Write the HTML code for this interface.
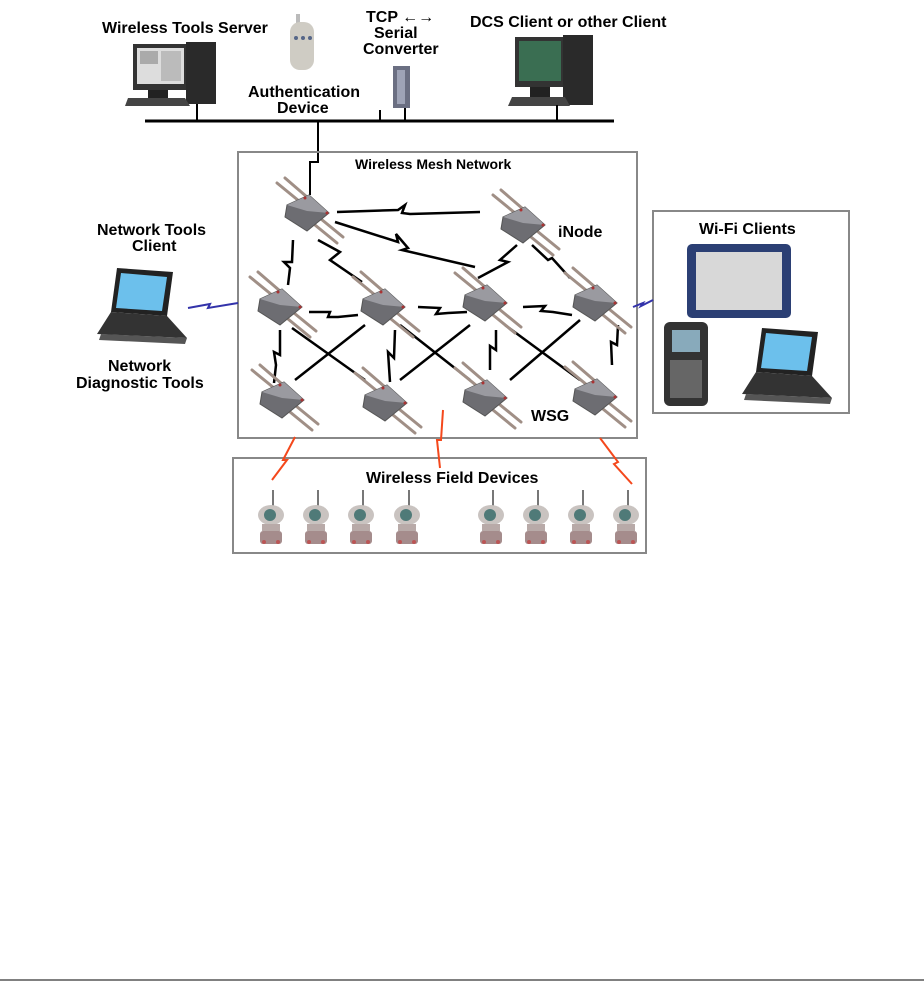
<!DOCTYPE html>
<html><head><meta charset="utf-8"><style>
body{margin:0;background:#fff;}
svg{display:block;}
text{font-family:"Liberation Sans",Arial,sans-serif;font-weight:bold;font-size:16px;fill:#000;}
</style></head><body>
<svg width="924" height="996" viewBox="0 0 924 996" xmlns="http://www.w3.org/2000/svg">
<defs>
<g id="node">
 <g stroke="#a08f86" stroke-width="3" stroke-linecap="round">
  <line x1="-30" y1="-30" x2="-8" y2="-12"/><line x1="-22" y1="-35" x2="0" y2="-16"/>
  <line x1="8" y1="12" x2="30" y2="30"/><line x1="14" y1="6" x2="36" y2="24"/>
 </g>
 <polygon points="-20,-8 2,-18 22,0 0,18 -22,4" fill="#6d6d72" stroke="#555" stroke-width="1"/>
 <polygon points="-20,-8 2,-18 22,0 0,-2" fill="#9a9aa0"/>
 <circle cx="-2" cy="-15" r="1.5" fill="#a33"/><circle cx="20" cy="0" r="1.5" fill="#a33"/>
</g>
<g id="fd">
 <line x1="0" y1="-22" x2="0" y2="-6" stroke="#777" stroke-width="2"/>
 <ellipse cx="-2" cy="3" rx="13" ry="10" fill="#c9c3c0"/>
 <circle cx="-3" cy="3" r="6" fill="#4f7a78"/>
 <rect x="-11" y="12" width="18" height="7" fill="#b8aaa8"/>
 <rect x="-13" y="19" width="22" height="13" rx="3" fill="#a58c8c"/>
 <circle cx="-9" cy="30" r="2" fill="#b55"/><circle cx="5" cy="30" r="2" fill="#b55"/>
</g>
<g id="laptop">
 <polygon points="20,0 76,4 70,48 14,44" fill="#222"/>
 <polygon points="24,5 70,9 65,43 19,40" fill="#6cc0ec"/>
 <polygon points="14,44 70,48 90,70 0,66" fill="#333"/>
 <polygon points="4,66 90,70 88,76 2,72" fill="#555"/>
</g>
</defs>

<text x="102" y="33">Wireless Tools Server</text>
<text x="470" y="27">DCS Client or other Client</text>
<text x="366" y="22">TCP ←→</text>
<text x="374" y="38">Serial</text>
<text x="363" y="54">Converter</text>
<text x="248" y="97">Authentication</text>
<text x="277" y="113">Device</text>

<rect x="133" y="44" width="55" height="46" fill="#333"/>
<rect x="137" y="48" width="47" height="36" fill="#ddd"/>
<rect x="140" y="51" width="18" height="13" fill="#aaa"/><rect x="161" y="51" width="20" height="30" fill="#bbb"/>
<rect x="148" y="90" width="20" height="10" fill="#222"/>
<rect x="186" y="42" width="30" height="62" fill="#2a2a2a"/>
<polygon points="128,98 185,98 190,106 125,106" fill="#444"/>
<rect x="296" y="14" width="4" height="10" fill="#bbb"/>
<rect x="290" y="22" width="24" height="48" rx="10" fill="#cfccc4"/>
<circle cx="296" cy="38" r="2" fill="#568"/><circle cx="303" cy="38" r="2" fill="#568"/><circle cx="310" cy="38" r="2" fill="#568"/>
<rect x="393" y="66" width="17" height="42" fill="#6b6f82"/>
<rect x="397" y="70" width="8" height="34" fill="#9ea3b6"/>
<rect x="515" y="37" width="50" height="50" fill="#333"/>
<rect x="519" y="41" width="42" height="40" fill="#3a6e52"/>
<rect x="530" y="87" width="20" height="10" fill="#222"/>
<rect x="563" y="35" width="30" height="70" fill="#2a2a2a"/>
<polygon points="512,97 565,97 570,106 508,106" fill="#444"/>

<line x1="145" y1="121" x2="614" y2="121" stroke="#000" stroke-width="3"/>
<g stroke="#000" stroke-width="2">
<line x1="197" y1="104" x2="197" y2="121"/><line x1="380" y1="110" x2="380" y2="121"/>
<line x1="405" y1="108" x2="405" y2="121"/><line x1="557" y1="105" x2="557" y2="121"/>
</g>
<polyline points="318,121 318,162 310,162 310,195" fill="none" stroke="#000" stroke-width="2"/>

<rect x="238" y="152" width="399" height="286" fill="none" stroke="#888" stroke-width="2"/>
<text x="355" y="169" style="font-size:14px">Wireless Mesh Network</text>
<text x="558" y="237">iNode</text>
<text x="531" y="421">WSG</text>

<g stroke="#000" stroke-width="2.5" fill="none" stroke-linejoin="miter">
<polyline points="337,212 398,210 405,205 402,213 410,214 480,212"/>
<polyline points="335,222 398,242 396,234 408,248 402,250 475,267"/>
<polyline points="293,240 292,262 284,262 290,268 288,285"/>
<polyline points="318,240 340,252 330,260 362,282"/>
<polyline points="517,245 500,260 508,262 478,278"/>
<polyline points="532,245 548,260 552,258 570,278"/>
<polyline points="309,312 330,312 328,317 338,317 358,315"/>
<polyline points="418,307 440,308 436,314 448,313 467,312"/>
<polyline points="523,307 545,306 541,311 553,312 572,315"/>
<polyline points="280,330 280,355 274,352 276,365 274,383"/>
<polyline points="395,330 394,358 388,352 390,382"/>
<polyline points="496,330 496,350 490,346 490,370"/>
<polyline points="618,325 617,345 611,342 612,365"/>
<line x1="292" y1="328" x2="365" y2="380"/><line x1="365" y1="325" x2="295" y2="380"/>
<line x1="400" y1="325" x2="470" y2="380"/><line x1="470" y1="325" x2="400" y2="380"/>
<line x1="505" y1="325" x2="580" y2="380"/><line x1="580" y1="320" x2="510" y2="380"/>
</g>

<use href="#node" x="307" y="213"/><use href="#node" x="523" y="225"/>
<use href="#node" x="280" y="307"/><use href="#node" x="383" y="307"/>
<use href="#node" x="485" y="303"/><use href="#node" x="595" y="303"/>
<use href="#node" x="282" y="400"/><use href="#node" x="385" y="403"/>
<use href="#node" x="485" y="398"/><use href="#node" x="595" y="397"/>

<text x="97" y="235">Network Tools</text>
<text x="132" y="251">Client</text>
<use href="#laptop" x="97" y="268"/>
<text x="108" y="371">Network</text>
<text x="76" y="388">Diagnostic Tools</text>
<polyline points="188,308 210,304 208,308 238,303" fill="none" stroke="#33a" stroke-width="2"/>

<rect x="653" y="211" width="196" height="202" fill="none" stroke="#888" stroke-width="2"/>
<text x="699" y="234">Wi-Fi Clients</text>
<polyline points="633,307 643,303 641,306 653,300" fill="none" stroke="#33a" stroke-width="2"/>
<rect x="687" y="244" width="104" height="74" rx="5" fill="#2b3f74"/>
<rect x="696" y="252" width="86" height="58" fill="#d8d8d8"/>
<rect x="664" y="322" width="44" height="84" rx="6" fill="#333"/>
<rect x="672" y="330" width="28" height="22" fill="#8ab"/>
<rect x="670" y="360" width="32" height="38" fill="#666"/>
<use href="#laptop" x="742" y="328"/>

<rect x="233" y="458" width="413" height="95" fill="none" stroke="#888" stroke-width="2"/>
<text x="366" y="483">Wireless Field Devices</text>
<g stroke="#f4481c" stroke-width="2" fill="none">
<polyline points="295,437 283,460 287,460 272,480"/>
<polyline points="443,410 441,440 437,440 440,468"/>
<polyline points="600,438 618,462 614,464 632,484"/>
</g>
<use href="#fd" x="273" y="512"/><use href="#fd" x="318" y="512"/>
<use href="#fd" x="363" y="512"/><use href="#fd" x="409" y="512"/>
<use href="#fd" x="493" y="512"/><use href="#fd" x="538" y="512"/>
<use href="#fd" x="583" y="512"/><use href="#fd" x="628" y="512"/>

<line x1="0" y1="980" x2="924" y2="980" stroke="#000" stroke-width="1"/>
</svg>
</body></html>
